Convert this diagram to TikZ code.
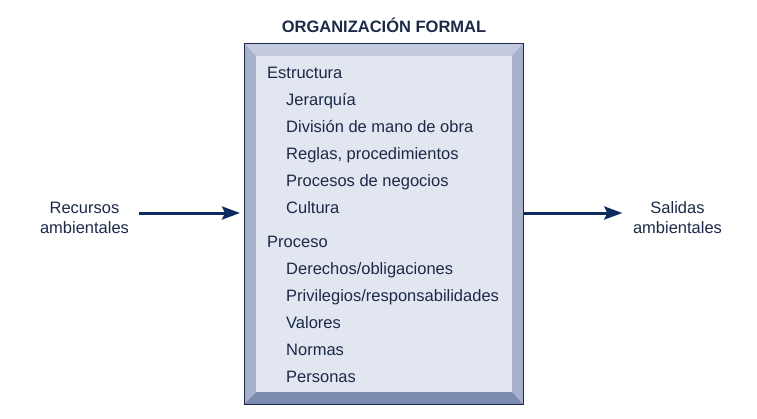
\documentclass[tikz,border=0pt]{standalone}
\usepackage{fontspec}
\setmainfont{Liberation Sans}
\usetikzlibrary{arrows.meta}
\definecolor{navy}{HTML}{0D2B5E}
\definecolor{ink}{HTML}{1C2A48}
\definecolor{edge}{HTML}{1B2A4D}
\definecolor{bevtop}{HTML}{C3CADD}
\definecolor{bevside}{HTML}{A8B1CC}
\definecolor{bevbot}{HTML}{7C8BB0}
\definecolor{panel}{HTML}{E1E6F0}

\begin{document}
\begin{tikzpicture}[x=1pt,y=-1pt,
  txt/.style={anchor=base west,inner sep=0pt,text=ink,font=\fontsize{16.5}{19.5}\selectfont},
  flow/.style={navy,line width=3pt,-{Stealth[length=18pt,width=13pt,inset=3pt]}}]
  \useasboundingbox (0,0) rectangle (757,418);
  \fill[bevtop] (244,43) -- (523,43) -- (512,56) -- (256,56) -- cycle;
  \fill[bevside] (244,43) -- (256,56) -- (256,392) -- (244,404) -- cycle;
  \fill[bevside] (523,43) -- (512,56) -- (512,392) -- (523,404) -- cycle;
  \fill[bevbot] (244,404) -- (256,392) -- (512,392) -- (523,404) -- cycle;
  \fill[panel] (256,56) rectangle (512,392);
  \node[draw=edge,line width=1.2pt,minimum width=279pt,minimum height=361pt,
    inner sep=0pt,anchor=north west] (org) at (244,43) {};
  \node[txt,anchor=base,font=\bfseries\fontsize{16.5}{19.5}\selectfont] (title) at (384,32) {ORGANIZACIÓN FORMAL};
  \foreach \y/\t in {78/Estructura,247/Proceso}
    \node[txt] (sec\y) at (267,\y) {\t};
  \foreach \y/\t in {105/Jerarquía,132/División de mano de obra,159/{Reglas, procedimientos},
      186/Procesos de negocios,213/Cultura,274/{Derechos/obligaciones}}
    \node[txt] (it\y) at (286,\y) {\t};
  \foreach \y/\t in {301/{Privilegios/responsabilidades},328/Valores,355/Normas,382/Personas}
    \node[txt] (it\y) at (286,\y) {\t};
  \node[txt,anchor=base,align=center] (rec) at (84.5,233) {Recursos\\ambientales};
  \node[txt,anchor=base,align=center] (sal) at (677.5,233) {Salidas\\ambientales};
  \draw[flow,shorten <=10pt,shorten >=4pt] (rec.east |- 0,213) -- (org.west |- 0,213);
  \draw[flow,shorten >=10.5pt] (org.east |- 0,213) -- (sal.west |- 0,213);
\end{tikzpicture}
\end{document}
